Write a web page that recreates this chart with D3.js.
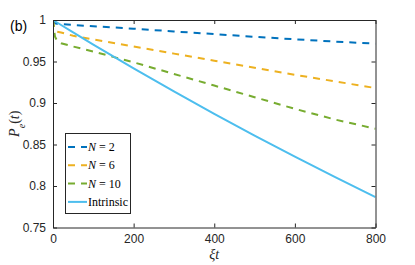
<!DOCTYPE html>
<html>
<head>
<meta charset="utf-8">
<script src="https://cdn.jsdelivr.net/npm/d3@7"></script>
<style>
  body { margin: 0; background: #fff; }
  svg { display: block; }
</style>
</head>
<body>
<svg width="415" height="265"></svg>
<script>
const width = 415, height = 265;

// time points (xi t)
const times = [0, 2, 5, 10, 20, 50, 100, 200, 300, 400, 500, 600, 700, 800];

// P_e(t) values
const n2 = [1, 0.997, 0.996, 0.9955, 0.995, 0.994, 0.9925, 0.9895, 0.9862, 0.983, 0.9798, 0.9767, 0.974, 0.9715];
const n6 = [1, 0.993, 0.988, 0.986, 0.985, 0.981, 0.9765, 0.968, 0.9595, 0.951, 0.9425, 0.934, 0.926, 0.918];
const n10 = [1, 0.99, 0.98, 0.975, 0.972, 0.968, 0.962, 0.949, 0.935, 0.921, 0.907, 0.893, 0.88, 0.869];
const intrinsic = [1, 0.9994, 0.9985, 0.997, 0.994, 0.985, 0.9704, 0.9418, 0.9139, 0.8869, 0.8607, 0.8353, 0.8106, 0.7866];

const xTicks = [0, 200, 400, 600, 800];
const yTicks = [0.75, 0.8, 0.85, 0.9, 0.95, 1];

const series = [
    { name: "N2", values: n2, color: "#0072BD", dashed: true, label: ["N", " = 2"] },
    { name: "N6", values: n6, color: "#EDB120", dashed: true, label: ["N", " = 6"] },
    { name: "N10", values: n10, color: "#77AC30", dashed: true, label: ["N", " = 10"] },
    { name: "intr", values: intrinsic, color: "#4DBEEE", dashed: false, label: [null, "Intrinsic"] }
];

const svg = d3.select("svg");
const mLeft = 53, mRight = 375.5, mTop = 20, mBottom = 227.5;

const x = d3.scaleLinear().domain([0, 800]).range([mLeft, mRight]);
const y = d3.scaleLinear().domain([0.75, 1]).range([mBottom, mTop]);

const axisColor = "#262626";
const tickFont = "'Liberation Sans', Arial, Helvetica, sans-serif";
const serif = "'Liberation Serif', 'Times New Roman', serif";

// clip for the lines
svg.append("clipPath").attr("id", "plotclip")
    .append("rect")
    .attr("x", mLeft).attr("y", mTop)
    .attr("width", mRight - mLeft).attr("height", mBottom - mTop);

// Draw lines
const line = d3.line()
    .x((d, i) => x(times[i]))
    .y(d => y(d));

series.forEach(s => {
    svg.append("path")
        .datum(s.values)
        .attr("clip-path", "url(#plotclip)")
        .attr("fill", "none")
        .attr("stroke", s.color)
        .attr("stroke-width", 2)
        .attr("stroke-dasharray", s.dashed ? "7,6" : null)
        .attr("d", line);
});

// Axes (box with inward ticks)
const xAxisB = d3.axisBottom(x).tickValues(xTicks).tickSizeInner(-4).tickSizeOuter(0).tickPadding(7);
const xAxisT = d3.axisTop(x).tickValues(xTicks).tickSizeInner(-4).tickSizeOuter(0).tickFormat("");
const yAxisL = d3.axisLeft(y).tickValues(yTicks).tickSizeInner(-4).tickSizeOuter(0).tickPadding(7)
    .tickFormat(d => d3.format("")(+d.toFixed(2)));
const yAxisR = d3.axisRight(y).tickValues(yTicks).tickSizeInner(-4).tickSizeOuter(0).tickFormat("");

function styleAxis(g) {
    g.select(".domain").attr("stroke", axisColor).attr("stroke-width", 1);
    g.selectAll(".tick line").attr("stroke", axisColor).attr("stroke-width", 1);
    g.selectAll(".tick text")
        .attr("fill", axisColor)
        .style("font-family", tickFont)
        .style("font-size", "12px");
}

svg.append("g").attr("transform", `translate(0,${mBottom})`).call(xAxisB).call(styleAxis);
svg.append("g").attr("transform", `translate(0,${mTop})`).call(xAxisT).call(styleAxis);
svg.append("g").attr("transform", `translate(${mLeft},0)`).call(yAxisL).call(styleAxis);
svg.append("g").attr("transform", `translate(${mRight},0)`).call(yAxisR).call(styleAxis);

// axis labels
svg.append("text")
    .attr("x", x(400))
    .attr("y", 259)
    .attr("text-anchor", "middle")
    .style("font-family", serif)
    .style("font-style", "italic")
    .style("font-size", "14px")
    .attr("fill", axisColor)
    .text("ξt");

const yl = svg.append("text")
    .attr("transform", `translate(19,${(mTop + mBottom) / 2}) rotate(-90)`)
    .attr("text-anchor", "middle")
    .style("font-family", serif)
    .style("font-style", "italic")
    .style("font-size", "14px")
    .attr("fill", axisColor);
yl.append("tspan").text("P");
yl.append("tspan").attr("baseline-shift", "sub").style("font-size", "10px").text("e");
yl.append("tspan").style("font-style", "normal").text("(");
yl.append("tspan").text("t");
yl.append("tspan").style("font-style", "normal").text(")");

// panel tag
svg.append("text")
    .attr("x", 10)
    .attr("y", 31)
    .style("font-family", tickFont)
    .style("font-size", "14px")
    .attr("fill", "#000")
    .text("(b)");

// Legend
const legX = 65, legY = 133, legW = 65, legH = 80;
svg.append("rect")
    .attr("x", legX + 0.5).attr("y", legY + 0.5)
    .attr("width", legW).attr("height", legH)
    .attr("fill", "#fff")
    .attr("stroke", axisColor)
    .attr("stroke-width", 1);

series.forEach((s, i) => {
    const ly = legY + 14 + i * 18.3;
    svg.append("line")
        .attr("x1", legX + 3).attr("x2", legX + 22)
        .attr("y1", ly).attr("y2", ly)
        .attr("stroke", s.color)
        .attr("stroke-width", 2)
        .attr("stroke-dasharray", s.dashed ? "7,6" : null);
    const t = svg.append("text")
        .attr("x", legX + 23)
        .attr("y", ly + 4)
        .style("font-family", serif)
        .style("font-size", "12px")
        .attr("fill", "#000");
    if (s.label[0]) t.append("tspan").style("font-style", "italic").text(s.label[0]);
    t.append("tspan").text(s.label[1]);
});
</script>
</body>
</html>
